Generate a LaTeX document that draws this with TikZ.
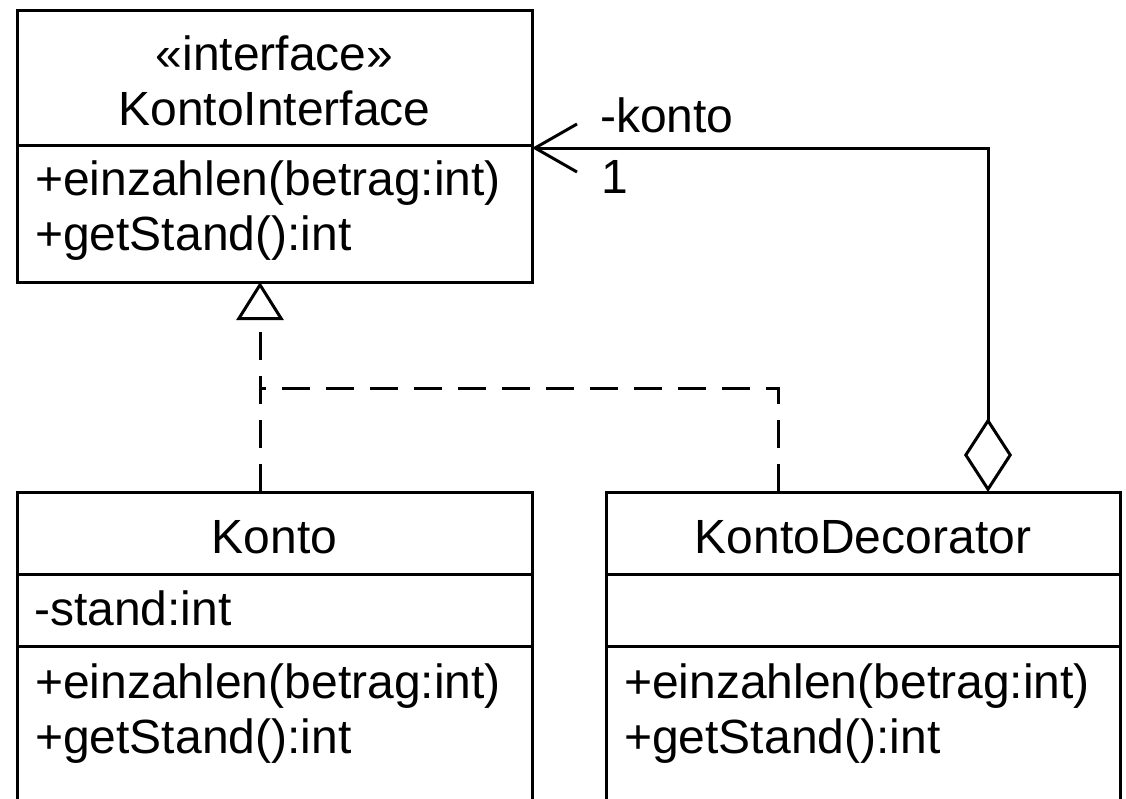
\documentclass[tikz,border=0pt]{standalone}
\usepackage{fontspec}
\usetikzlibrary{arrows.meta}
\newfontfamily\umlfont{Liberation Sans}
\newcommand\umlf{\umlfont\fontsize{48}{56}\selectfont}
\tikzset{
  comp/.style={draw, line width=3pt, anchor=north west, minimum width=515pt, inner sep=0pt, outer sep=0pt},
  lbl/.style={font=\umlf, inner sep=0pt, anchor=base},
  mem/.style={font=\umlf, inner sep=0pt, anchor=base west},
  conn/.style={line width=3pt},
  realize/.style={conn, dash pattern=on 28pt off 16pt, -{Triangle[open, length=38pt, width=47pt, line width=3pt]}},
  realizeplain/.style={conn, dash pattern=on 28pt off 16pt},
  aggr/.style={conn, {Diamond[open, length=74pt, width=48pt, line width=3pt]}-{Straight Barb[length=42pt, width=48pt, line width=3pt]}},
}
\begin{document}
\begin{tikzpicture}[x=1pt, y=-1pt]
\useasboundingbox[fill=white] (0,0) rectangle (1126,798);
% KontoInterface
\node[comp, minimum height=135pt] (ifhead) at (17,10) {};
\node[comp, minimum height=137pt] (ifops) at (17,145) {};
\node[lbl] (ifstereo) at (274.5,70) {«interface»};
\node[lbl] (ifname) at (274.5,125) {KontoInterface};
\node[mem] (ifm1) at (35,195) {+einzahlen(betrag:int)};
\node[mem] (ifm2) at (35,250) {+getStand():int};
% Konto
\node[comp, minimum height=82pt] (khead) at (17,492) {};
\node[comp, minimum height=72pt] (kattr) at (17,574) {};
\node[comp, minimum height=220pt] (kops) at (17,646) {};
\node[lbl] (kname) at (274.5,553) {Konto};
\node[mem] (ka1) at (34,625) {-stand:int};
\node[mem] (km1) at (35,698) {+einzahlen(betrag:int)};
\node[mem] (km2) at (35,753) {+getStand():int};
% KontoDecorator
\node[comp, minimum width=514pt, minimum height=82pt] (dhead) at (606,492) {};
\node[comp, minimum width=514pt, minimum height=72pt] (dattr) at (606,574) {};
\node[comp, minimum width=514pt, minimum height=220pt] (dops) at (606,646) {};
\node[lbl] (dname) at (863,553) {KontoDecorator};
\node[mem] (dm1) at (624,698) {+einzahlen(betrag:int)};
\node[mem] (dm2) at (624,753) {+getStand():int};
% connectors
\coordinate (kup) at ([xshift=-14.5pt]khead.north);
\coordinate (dup) at ([xshift=-85pt]dhead.north);
\coordinate (aggstart) at ([xshift=125pt]dhead.north);
\coordinate (join) at (kup |- 0,388);
\draw[realize] (kup) -- (kup |- ifops.south);
\draw[realizeplain] (dup) |- (join);
\draw[aggr] (aggstart) |- ([yshift=-3pt]ifhead.south east);
\node[mem] (role) at (600,132) {-konto};
\node[mem] (mult) at (601,193) {1};
\end{tikzpicture}
\end{document}
